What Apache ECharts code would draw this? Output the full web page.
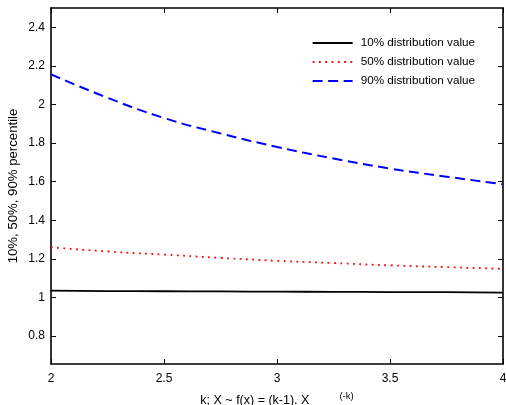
<!DOCTYPE html>
<html><head><meta charset="utf-8">
<script src="https://cdn.jsdelivr.net/npm/echarts@6/dist/echarts.min.js"></script>
<style>html,body{margin:0;padding:0;background:#fff}#c{width:506px;height:405px}</style>
</head><body><div id="c"></div>
<script>
const kValues = [2, 2.25, 2.5, 2.75, 3, 3.25, 3.5, 3.75, 4];
const p10 = [1.035, 1.033, 1.032, 1.031, 1.030, 1.029, 1.028, 1.027, 1.025];
const p50 = [1.260, 1.238, 1.222, 1.205, 1.190, 1.178, 1.166, 1.157, 1.148];
const p90 = [2.156, 2.035, 1.930, 1.850, 1.780, 1.720, 1.668, 1.626, 1.587];
const seriesNames = ['10% distribution value', '50% distribution value', '90% distribution value'];
const yTicks = [0.8, 1, 1.2, 1.4, 1.6, 1.8, 2, 2.2, 2.4];

const pairs = arr => kValues.map((k, i) => [k, arr[i]]);
const font = 'Liberation Sans, Arial, sans-serif';
const chart = echarts.init(document.getElementById('c'));
const axisLine = {show: true, onZero: false, lineStyle: {color: '#000', width: 1.6}};
const tick = {show: true, inside: true, length: 5, lineStyle: {color: '#000', width: 1}};
chart.setOption({
  animation: false,
  grid: {left: 51, right: 3, top: 8, bottom: 41, outerBoundsMode: 'none', containLabel: false},
  legend: {
    right: 26, top: 32, orient: 'vertical', itemGap: 7, itemWidth: 40, itemHeight: 12,
    itemStyle: {opacity: 0, borderWidth: 0},
    textStyle: {fontFamily: font, fontSize: 11.7, color: '#000', padding: [0, 0, 0, 3]},
    data: seriesNames
  },
  xAxis: [
    {type: 'value', min: 2, max: 4, interval: 0.5, axisLine, axisTick: tick, splitLine: {show: false},
      axisLabel: {color: '#000', fontFamily: font, fontSize: 12, margin: 9},
      name: '{a|k; X ~ f(x) = (k-1). X}{b|(-k)}', nameLocation: 'middle', nameGap: 27, nameMoveOverlap: false,
      nameTextStyle: {rich: {
        a: {fontFamily: font, fontSize: 12.5, color: '#000'},
        b: {fontFamily: font, fontSize: 9.5, color: '#000', padding: [0, 0, 10, 30]}
      }}},
    {type: 'value', min: 2, max: 4, interval: 0.5, position: 'top', axisLine, axisTick: tick,
      splitLine: {show: false}, axisLabel: {show: false}}
  ],
  yAxis: [
    {type: 'value', min: 0.655, max: 2.5, axisLine, splitLine: {show: false},
      axisLabel: {color: '#000', fontFamily: font, fontSize: 12, margin: 6,
        customValues: yTicks, formatter: v => String(+v.toFixed(2))},
      axisTick: Object.assign({customValues: yTicks}, tick),
      name: '10%, 50%, 90% percentile', nameLocation: 'middle', nameGap: 31, nameMoveOverlap: false,
      nameTextStyle: {fontFamily: font, fontSize: 13.2, color: '#000'}},
    {type: 'value', min: 0.655, max: 2.5, position: 'right', axisLine, splitLine: {show: false},
      axisLabel: {show: false},
      axisTick: Object.assign({customValues: yTicks}, tick)}
  ],
  series: [
    {name: seriesNames[0], type: 'line', data: pairs(p10), showSymbol: false, symbol: 'none', smooth: true,
      lineStyle: {color: '#000', width: 1.8, type: 'solid'}, itemStyle: {color: '#000'}},
    {name: seriesNames[1], type: 'line', data: pairs(p50), showSymbol: false, symbol: 'none', smooth: true,
      lineStyle: {color: '#ff0000', width: 1.8, type: [1.8, 4.5]}, itemStyle: {color: '#ff0000'}},
    {name: seriesNames[2], type: 'line', data: pairs(p90), showSymbol: false, symbol: 'none', smooth: true,
      lineStyle: {color: '#0000ff', width: 2, type: [10, 5.5]}, itemStyle: {color: '#0000ff'}}
  ]
});
</script></body></html>
